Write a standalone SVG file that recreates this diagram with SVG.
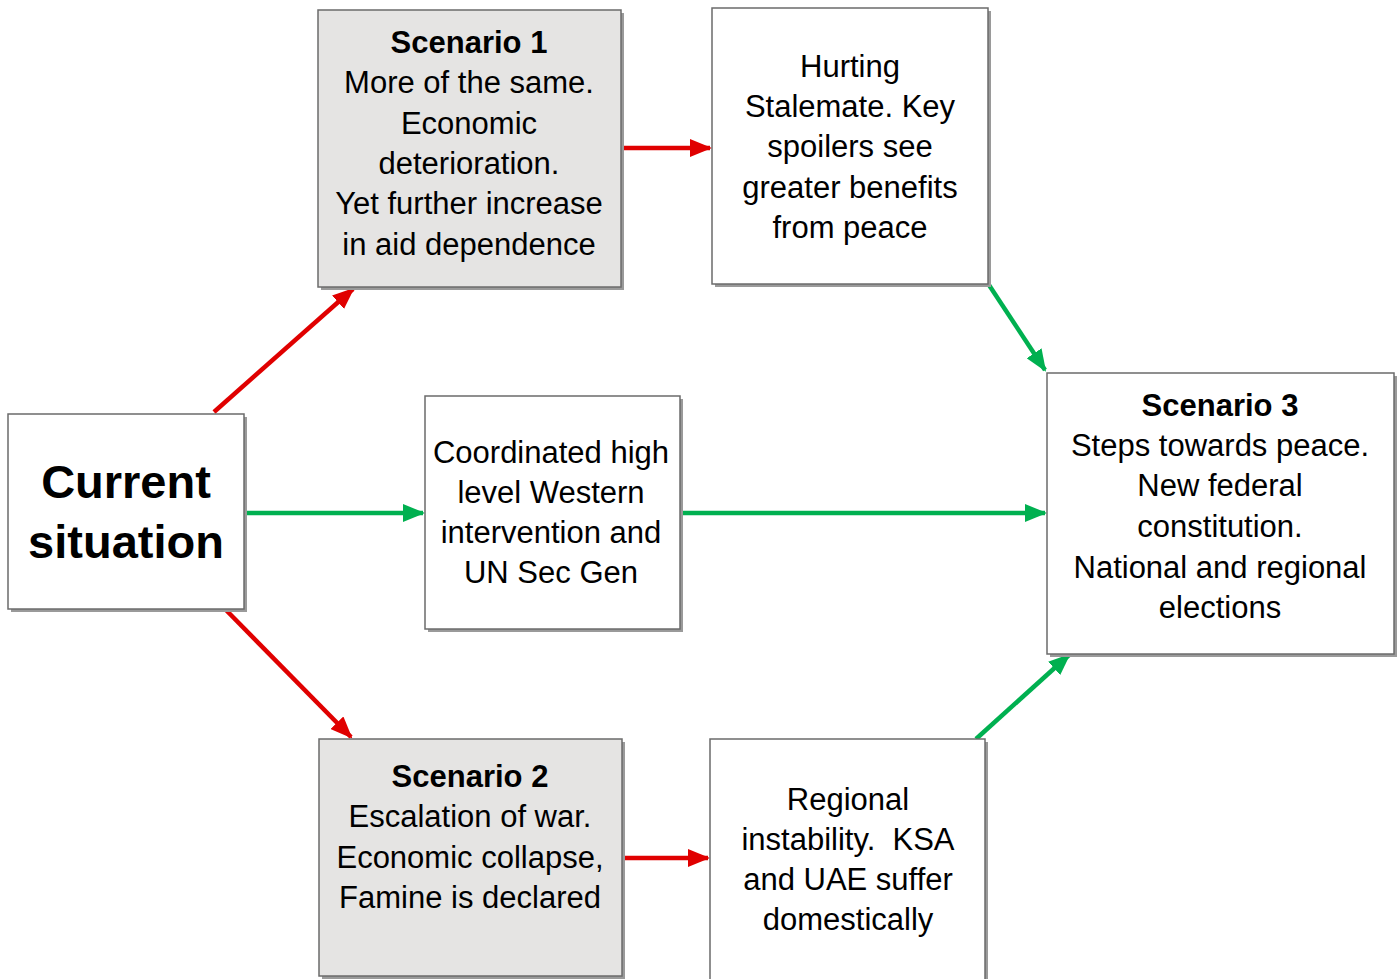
<svg xmlns="http://www.w3.org/2000/svg" width="1400" height="979" viewBox="0 0 1400 979">
<style>
.box{stroke:#6b6b6b;stroke-width:1.5}
.w{fill:#ffffff}
.g{fill:#e5e4e3}
.sh{fill:#9a9a9a}
text{font-family:"Liberation Sans",Arial,sans-serif;font-size:31px;fill:#000;text-anchor:middle}
.b{font-weight:bold}
.big{font-weight:bold;font-size:47px}
.red{stroke:#e00000;stroke-width:4.5;fill:none}
.grn{stroke:#00b050;stroke-width:4.5;fill:none}
</style>
<defs>
<marker id="ar" markerUnits="userSpaceOnUse" markerWidth="22" markerHeight="18" refX="20" refY="9" orient="auto"><path d="M0,0 L22,9 L0,18 Z" fill="#e00000"/></marker>
<marker id="ag" markerUnits="userSpaceOnUse" markerWidth="22" markerHeight="18" refX="20" refY="9" orient="auto"><path d="M0,0 L22,9 L0,18 Z" fill="#00b050"/></marker>
</defs>
<rect width="1400" height="979" fill="#ffffff"/>
<g id="connectors">
<line class="red" x1="214" y1="412" x2="353" y2="289" marker-end="url(#ar)"/>
<line class="red" x1="622" y1="148" x2="710" y2="148" marker-end="url(#ar)"/>
<line class="grn" x1="244" y1="513" x2="423" y2="513" marker-end="url(#ag)"/>
<line class="grn" x1="680" y1="513" x2="1045" y2="513" marker-end="url(#ag)"/>
<line class="red" x1="226" y1="610" x2="351" y2="737" marker-end="url(#ar)"/>
<line class="red" x1="623" y1="858" x2="708" y2="858" marker-end="url(#ar)"/>
<line class="grn" x1="989" y1="285" x2="1045" y2="370" marker-end="url(#ag)"/>
<line class="grn" x1="976" y1="739" x2="1069" y2="655" marker-end="url(#ag)"/>
</g>
<g id="current">
<rect class="sh" x="11" y="417" width="236" height="195"/>
<rect class="box w" x="8" y="414" width="236" height="195"/>
<text class="big" x="126" y="498">Current</text>
<text class="big" x="126" y="558">situation</text>
</g>
<g id="scenario1">
<rect class="sh" x="321" y="13" width="303" height="277"/>
<rect class="box g" x="318" y="10" width="303" height="277"/>
<text class="b" x="469" y="53">Scenario 1</text>
<text x="469" y="93">More of the same.</text>
<text x="469" y="134">Economic</text>
<text x="469" y="174">deterioration.</text>
<text x="469" y="214">Yet further increase</text>
<text x="469" y="255">in aid dependence</text>
</g>
<g id="hurting">
<rect class="sh" x="715" y="11" width="276" height="276"/>
<rect class="box w" x="712" y="8" width="276" height="276"/>
<text x="850" y="77">Hurting</text>
<text x="850" y="117">Stalemate. Key</text>
<text x="850" y="157">spoilers see</text>
<text x="850" y="198">greater benefits</text>
<text x="850" y="238">from peace</text>
</g>
<g id="coordinated">
<rect class="sh" x="428" y="399" width="255" height="233"/>
<rect class="box w" x="425" y="396" width="255" height="233"/>
<text x="551" y="463">Coordinated high</text>
<text x="551" y="503">level Western</text>
<text x="551" y="543">intervention and</text>
<text x="551" y="583">UN Sec Gen</text>
</g>
<g id="scenario3">
<rect class="sh" x="1050" y="376" width="347" height="281"/>
<rect class="box w" x="1047" y="373" width="347" height="281"/>
<text class="b" x="1220" y="416">Scenario 3</text>
<text x="1220" y="456">Steps towards peace.</text>
<text x="1220" y="496">New federal</text>
<text x="1220" y="537">constitution.</text>
<text x="1220" y="578">National and regional</text>
<text x="1220" y="618">elections</text>
</g>
<g id="scenario2">
<rect class="sh" x="322" y="742" width="303" height="237"/>
<rect class="box g" x="319" y="739" width="303" height="237"/>
<text class="b" x="470" y="787">Scenario 2</text>
<text x="470" y="827">Escalation of war.</text>
<text x="470" y="868">Economic collapse,</text>
<text x="470" y="908">Famine is declared</text>
</g>
<g id="regional">
<rect class="sh" x="713" y="742" width="275" height="250"/>
<rect class="box w" x="710" y="739" width="275" height="250"/>
<text x="848" y="810">Regional</text>
<text x="848" y="850">instability.&#160; KSA</text>
<text x="848" y="890">and UAE suffer</text>
<text x="848" y="930">domestically</text>
</g>
</svg>
